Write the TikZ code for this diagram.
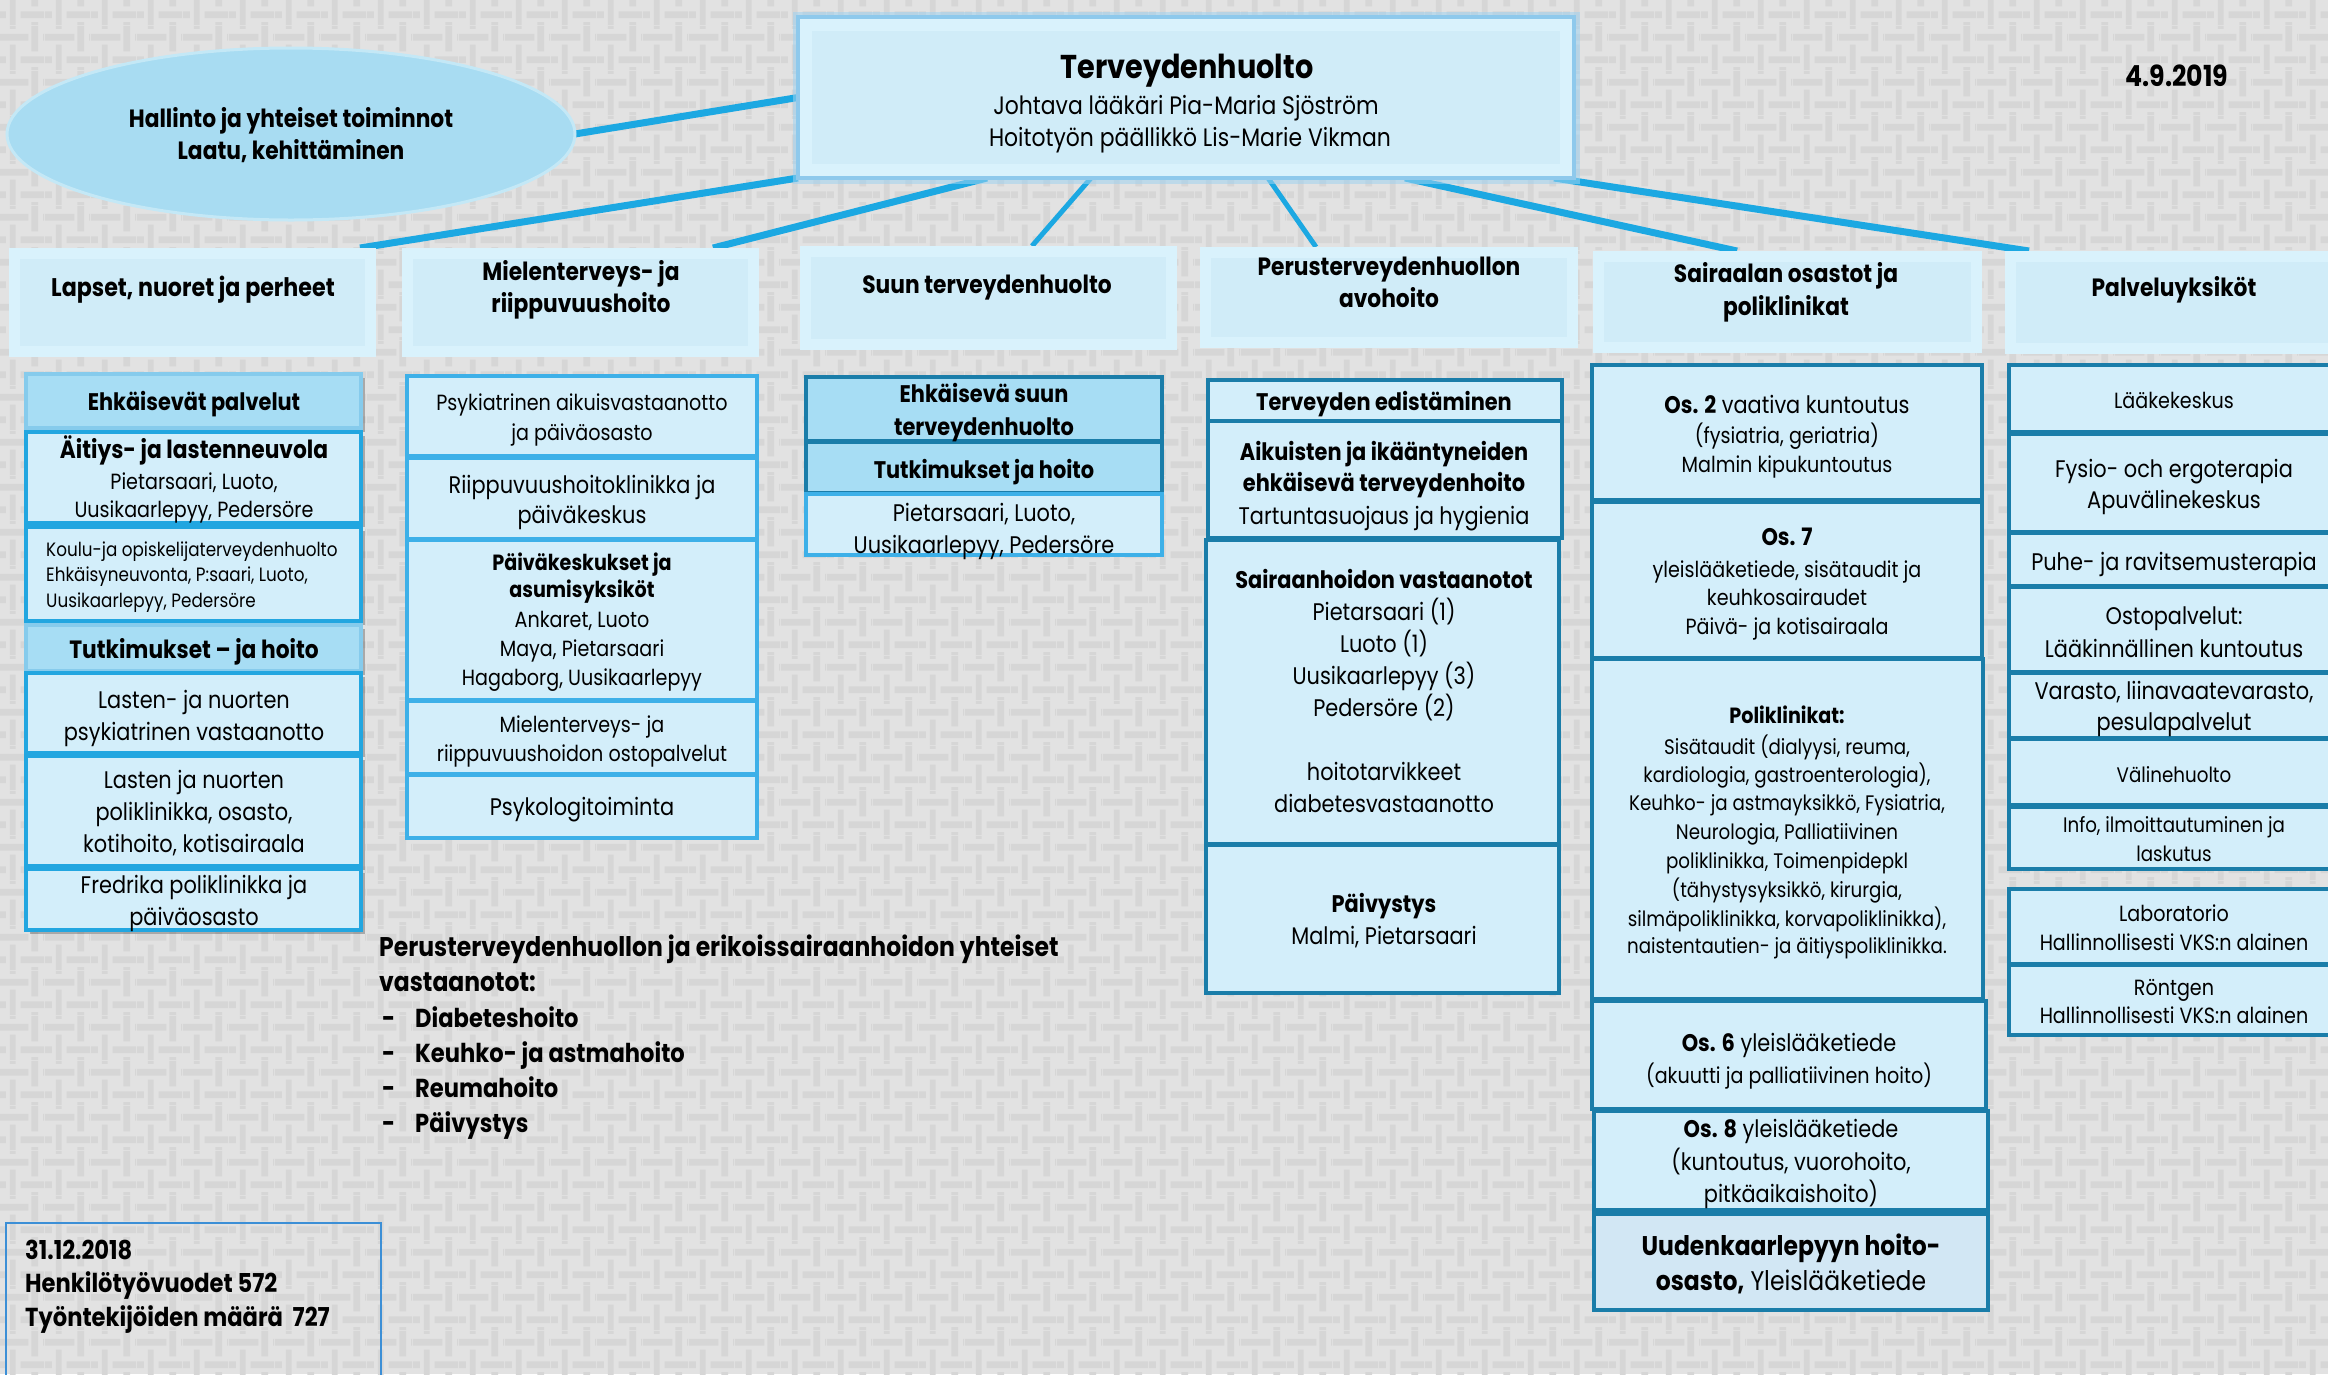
\documentclass[tikz,border=0pt]{standalone}
\usepackage{fontspec}
\setmainfont{Poppins}[FakeStretch=0.87]
\usetikzlibrary{shapes.geometric,shadows,patterns}
\definecolor{bgbase}{HTML}{E2E2E2}
\definecolor{bgbar}{HTML}{D6D6D6}
\definecolor{boxlt}{HTML}{D3EEFA}
\definecolor{boxdk}{HTML}{A7DDF4}
\definecolor{hdout}{HTML}{D9F2FC}
\definecolor{hdin}{HTML}{D0ECF8}
\definecolor{conncol}{HTML}{1CA8E2}
\definecolor{bbright}{HTML}{22A6E0}
\definecolor{blight}{HTML}{86CBEC}
\definecolor{bmid}{HTML}{3DB0E8}
\definecolor{bdark}{HTML}{1A7DA9}
\definecolor{ellfill}{HTML}{A8DCF2}
\definecolor{ellrim}{HTML}{C4E8F6}
\definecolor{uufill}{HTML}{D2E7F4}
\definecolor{statb}{HTML}{3C8FD6}
\definecolor{glowc}{HTML}{9FD2F0}
\definecolor{topbd}{HTML}{8EC9EC}

\pgfdeclarepatternformonly{weave}{\pgfpointorigin}{\pgfpoint{46pt}{45pt}}{\pgfpoint{46pt}{45pt}}{%
  \pgfpathrectangle{\pgfpoint{22pt}{7pt}}{\pgfpoint{24pt}{7pt}}%
  \pgfpathrectangle{\pgfpoint{0pt}{7pt}}{\pgfpoint{7pt}{7pt}}%
  \pgfpathrectangle{\pgfpoint{11pt}{0pt}}{\pgfpoint{6pt}{26pt}}%
  \pgfpathrectangle{\pgfpoint{11pt}{42pt}}{\pgfpoint{6pt}{3pt}}%
  \pgfpathrectangle{\pgfpoint{33pt}{19pt}}{\pgfpoint{7pt}{26pt}}%
  \pgfpathrectangle{\pgfpoint{33pt}{0pt}}{\pgfpoint{7pt}{3pt}}%
  \pgfpathrectangle{\pgfpoint{0pt}{30pt}}{\pgfpoint{30pt}{7pt}}%
  \pgfpathrectangle{\pgfpoint{45pt}{30pt}}{\pgfpoint{1pt}{7pt}}%
  \pgfusepath{fill}}

\pgfdeclarelayer{bglayer}
\pgfdeclarelayer{connlayer}
\pgfsetlayers{bglayer,connlayer,main}

\newcommand\fsz[1]{\fontsize{#1}{#1}\selectfont}
\newcommand\rgf[1]{\fsz{#1}\mdseries}
\newcommand\bdf[1]{\fsz{#1}\bfseries}
\newcounter{tlc}
\newcommand\tline[4][]{\stepcounter{tlc}\node[tln,#1,font=#3] (tl\arabic{tlc}) at (#2) {#4};}
\newcommand\bx[6]{\node[#1,minimum width={(#5-#3)*1pt},minimum height={(#6-#4)*1pt},anchor=north west] (#2) at (#3,#4) {};}

\tikzset{
  tln/.style={anchor=base, inner sep=0pt, text=black},
  tlw/.style={anchor=base west},
  basebox/.style={rectangle, inner sep=0pt, outer sep=0pt},
  hdr/.style={basebox, fill=hdout, path picture={\fill[hdin] ([shift={(11pt,-11pt)}]path picture bounding box.north west) rectangle ([shift={(-11pt,11pt)}]path picture bounding box.south east);}},
  topbox/.style={basebox, fill=hdout, draw=topbd, line width=4pt,
     preaction={draw=glowc, line width=11pt, opacity=0.55},
     path picture={\fill[hdin] ([shift={(14pt,-14pt)}]path picture bounding box.north west) rectangle ([shift={(-14pt,14pt)}]path picture bounding box.south east);}},
  ell/.style={ellipse, inner sep=0pt, outer sep=0pt, minimum width=568pt, minimum height=172pt, fill=ellfill, draw=ellrim, line width=3pt},
  c1/.style={basebox, fill=boxlt, draw=bbright, line width=3.5pt, drop shadow={shadow xshift=4pt, shadow yshift=-4pt, opacity=0.25, fill=black}},
  c1dk/.style={c1, fill=boxdk, draw=blight},
  c2/.style={basebox, fill=boxlt, draw=bmid, line width=3.5pt},
  c3dk/.style={basebox, fill=boxdk, draw=bdark, line width=3.5pt},
  c3/.style={basebox, fill=boxlt, draw=bmid, line width=3.5pt},
  c4/.style={basebox, fill=boxlt, draw=bdark, line width=3.2pt},
  c4uu/.style={c4, fill=uufill},
  statbox/.style={basebox, draw=statb, line width=2pt},
  cn/.style={draw=conncol, line width=7pt},
  cnt/.style={draw=conncol, line width=5pt}
}

\begin{document}
\begin{tikzpicture}[x=1pt,y=-1pt]
\useasboundingbox (0,0) rectangle (2328,1374);
\begin{pgfonlayer}{bglayer}
\fill[bgbase] (0,0) rectangle (2328,1374);
\fill[pattern=weave, pattern color=bgbar] (0,0) rectangle (2328,1374);
\end{pgfonlayer}
\clip (0,0) rectangle (2328,1374);

% top and ellipse
\bx{topbox}{top}{798}{17}{1574}{178}
\node[ell] (hall) at (291,134) {};

% headers
\bx{hdr}{h1}{9}{248}{376}{357}
\bx{hdr}{h2}{402}{248}{759}{357}
\bx{hdr}{h3}{800}{246}{1177}{350}
\bx{hdr}{h4}{1200}{247}{1578}{348}
\bx{hdr}{h5}{1593}{251}{1982}{353}
\bx{hdr}{h6}{2005}{251}{2343}{354}

% column 1
\bx{c1dk}{a1}{26}{374}{361}{428}
\bx{c1}{a2}{26}{432}{361}{523}
\bx{c1}{a3}{26}{527}{361}{621}
\bx{c1dk}{a4}{26}{625}{361}{671}
\bx{c1}{a5}{26}{673}{361}{753}
\bx{c1}{a6}{26}{756}{361}{866}
\bx{c1}{a7}{26}{869}{361}{930}

% column 2
\bx{c2}{b1}{407}{376}{757}{456}
\bx{c2}{b2}{407}{458}{757}{539}
\bx{c2}{b3}{407}{540}{757}{700}
\bx{c2}{b4}{407}{701}{757}{774}
\bx{c2}{b5}{407}{775}{757}{838}

% column 3
\bx{c3dk}{s1}{806}{377}{1162}{441}
\bx{c3dk}{s2}{806}{442}{1162}{493}
\bx{c3}{s3}{806}{494}{1162}{555}

% column 4
\bx{c4}{p1}{1208}{380}{1562}{421}
\bx{c4}{p2}{1208}{421}{1562}{538}
\bx{c4}{p3}{1206}{540}{1559}{844}
\bx{c4}{p4}{1206}{845}{1559}{993}

% column 5
\bx{c4}{o1}{1592}{365}{1982}{500}
\bx{c4}{o2}{1592}{502}{1982}{658}
\bx{c4}{o3}{1592}{659}{1983}{999}
\bx{c4}{o4}{1592}{1001}{1986}{1109}
\bx{c4}{o5}{1594}{1111}{1988}{1210}
\bx{c4uu}{o6}{1594}{1214}{1988}{1310}

% column 6
\bx{c4}{q1}{2009}{365}{2345}{432}
\bx{c4}{q2}{2009}{434}{2345}{532}
\bx{c4}{q3}{2009}{533}{2345}{586}
\bx{c4}{q4}{2009}{587}{2345}{672}
\bx{c4}{q5}{2009}{673}{2345}{738}
\bx{c4}{q6}{2009}{739}{2345}{805}
\bx{c4}{q7}{2009}{807}{2345}{869}
\bx{c4}{q8}{2009}{889}{2345}{964}
\bx{c4}{q9}{2009}{965}{2345}{1035}

% stats box
\bx{statbox}{stat}{6}{1223}{381}{1390}

% connectors
\begin{pgfonlayer}{connlayer}
\draw[cn] (hall.east) -- (top.west);
\draw[cn] (top.south west) -- ([xshift=351pt]h1.north west);
\draw[cn] ([xshift=189pt]top.south west) -- ([xshift=311pt]h2.north west);
\draw[cnt] ([xshift=293pt]top.south west) -- ([xshift=232pt]h3.north west);
\draw[cnt] ([xshift=470pt]top.south west) -- ([xshift=116pt]h4.north west);
\draw[cn] ([xshift=607pt]top.south west) -- ([xshift=144pt]h5.north west);
\draw[cn] ([xshift=756pt]top.south west) -- ([xshift=24pt]h6.north west);
\end{pgfonlayer}

% texts: top
\tline{1187,78}{\bdf{33}}{Terveydenhuolto}
\tline{1186,114}{\rgf{25.2}}{Johtava lääkäri Pia-Maria Sjöström}
\tline{1190,146}{\rgf{25.2}}{Hoitotyön päällikkö Lis-Marie Vikman}
\tline{291,127}{\bdf{25}}{Hallinto ja yhteiset toiminnot}
\tline{291,159}{\bdf{25}}{Laatu, kehittäminen}
\tline{2177,86}{\bdf{29}}{4.9.2019}

% headers
\tline{193,296}{\bdf{25.5}}{Lapset, nuoret ja perheet}
\tline{581,280}{\bdf{25}}{Mielenterveys- ja}
\tline{581,312}{\bdf{25}}{riippuvuushoito}
\tline{987,293}{\bdf{25}}{Suun terveydenhuolto}
\tline{1389,275}{\bdf{25}}{Perusterveydenhuollon}
\tline{1389,307}{\bdf{25}}{avohoito}
\tline{1786,282}{\bdf{25}}{Sairaalan osastot ja}
\tline{1786,315}{\bdf{25}}{poliklinikat}
\tline{2174,296}{\bdf{25}}{Palveluyksiköt}

% column 1
\tline{194,410}{\bdf{24}}{Ehkäisevät palvelut}
\tline{194,458}{\bdf{25}}{Äitiys- ja lastenneuvola}
\tline{194,489}{\rgf{22}}{Pietarsaari, Luoto,}
\tline{194,517}{\rgf{22}}{Uusikaarlepyy, Pedersöre}
\tline[tlw]{46,556}{\rgf{19.3}}{Koulu-ja opiskelijaterveydenhuolto}
\tline[tlw]{46,581}{\rgf{19.3}}{Ehkäisyneuvonta, P:saari, Luoto,}
\tline[tlw]{46,607}{\rgf{19.3}}{Uusikaarlepyy, Pedersöre}
\tline{194,658}{\bdf{25}}{Tutkimukset – ja hoito}
\tline{194,708}{\rgf{24}}{Lasten- ja nuorten}
\tline{194,740}{\rgf{24}}{psykiatrinen vastaanotto}
\tline{194,788}{\rgf{24}}{Lasten ja nuorten}
\tline{194,820}{\rgf{24}}{poliklinikka, osasto,}
\tline{194,852}{\rgf{24}}{kotihoito, kotisairaala}
\tline{194,893}{\rgf{24}}{Fredrika poliklinikka ja}
\tline{194,925}{\rgf{24}}{päiväosasto}

% column 2
\tline{582,410}{\rgf{22}}{Psykiatrinen aikuisvastaanotto}
\tline{582,440}{\rgf{22}}{ja päiväosasto}
\tline{582,493}{\rgf{24}}{Riippuvuushoitoklinikka ja}
\tline{582,523}{\rgf{24}}{päiväkeskus}
\tline{582,570}{\bdf{22}}{Päiväkeskukset ja}
\tline{582,597}{\bdf{22}}{asumisyksiköt}
\tline{582,627}{\rgf{22}}{Ankaret, Luoto}
\tline{582,656}{\rgf{22}}{Maya, Pietarsaari}
\tline{582,685}{\rgf{22}}{Hagaborg, Uusikaarlepyy}
\tline{582,732}{\rgf{22}}{Mielenterveys- ja}
\tline{582,761}{\rgf{22}}{riippuvuushoidon ostopalvelut}
\tline{582,815}{\rgf{24}}{Psykologitoiminta}

% column 3
\tline{984,402}{\bdf{24}}{Ehkäisevä suun}
\tline{984,435}{\bdf{24}}{terveydenhuolto}
\tline{984,478}{\bdf{24}}{Tutkimukset ja hoito}
\tline{984,521}{\rgf{24}}{Pietarsaari, Luoto,}
\tline{984,553}{\rgf{24}}{Uusikaarlepyy, Pedersöre}

% column 4
\tline{1384,410}{\bdf{24}}{Terveyden edistäminen}
\tline{1384,460}{\bdf{24}}{Aikuisten ja ikääntyneiden}
\tline{1384,491}{\bdf{24}}{ehkäisevä terveydenhoito}
\tline{1384,524}{\rgf{24}}{Tartuntasuojaus ja hygienia}
\tline{1384,588}{\bdf{24}}{Sairaanhoidon vastaanotot}
\tline{1384,620}{\rgf{24}}{Pietarsaari (1)}
\tline{1384,652}{\rgf{24}}{Luoto (1)}
\tline{1384,684}{\rgf{24}}{Uusikaarlepyy (3)}
\tline{1384,716}{\rgf{24}}{Pedersöre (2)}
\tline{1384,780}{\rgf{24}}{hoitotarvikkeet}
\tline{1384,812}{\rgf{24}}{diabetesvastaanotto}
\tline{1384,912}{\bdf{24}}{Päivystys}
\tline{1384,944}{\rgf{24}}{Malmi, Pietarsaari}

% column 5
\tline{1787,413}{\rgf{24}}{\textbf{Os. 2} vaativa kuntoutus}
\tline{1787,443}{\rgf{22}}{(fysiatria, geriatria)}
\tline{1787,472}{\rgf{22}}{Malmin kipukuntoutus}
\tline{1787,545}{\bdf{24}}{Os. 7}
\tline{1787,577}{\rgf{22}}{yleislääketiede, sisätaudit ja}
\tline{1787,605}{\rgf{22}}{keuhkosairaudet}
\tline{1787,634}{\rgf{22}}{Päivä- ja kotisairaala}
\tline{1787,723}{\bdf{22}}{Poliklinikat:}
\tline{1787,754}{\rgf{21}}{Sisätaudit (dialyysi, reuma,}
\tline{1787,782}{\rgf{21}}{kardiologia, gastroenterologia),}
\tline{1787,810}{\rgf{21}}{Keuhko- ja astmayksikkö, Fysiatria,}
\tline{1787,839}{\rgf{21}}{Neurologia, Palliatiivinen}
\tline{1787,868}{\rgf{21}}{poliklinikka, Toimenpidepkl}
\tline{1787,897}{\rgf{21}}{(tähystysyksikkö, kirurgia,}
\tline{1787,926}{\rgf{21}}{silmäpoliklinikka, korvapoliklinikka),}
\tline{1787,953}{\rgf{21}}{naistentautien- ja äitiyspoliklinikka.}
\tline{1789,1051}{\rgf{24}}{\textbf{Os. 6} yleislääketiede}
\tline{1789,1083}{\rgf{22}}{(akuutti ja palliatiivinen hoito)}
\tline{1791,1137}{\rgf{24}}{\textbf{Os. 8} yleislääketiede}
\tline{1791,1170}{\rgf{24}}{(kuntoutus, vuorohoito,}
\tline{1791,1202}{\rgf{24}}{pitkäaikaishoito)}
\tline{1791,1255}{\bdf{27}}{Uudenkaarlepyyn hoito-}
\tline{1791,1290}{\rgf{27}}{\textbf{osasto,} Yleislääketiede}

% column 6
\tline{2174,408}{\rgf{22}}{Lääkekeskus}
\tline{2174,477}{\rgf{24}}{Fysio- och ergoterapia}
\tline{2174,508}{\rgf{24}}{Apuvälinekeskus}
\tline{2174,570}{\rgf{24}}{Puhe- ja ravitsemusterapia}
\tline{2174,624}{\rgf{24}}{Ostopalvelut:}
\tline{2174,657}{\rgf{24}}{Lääkinnällinen kuntoutus}
\tline{2174,699}{\rgf{24}}{Varasto, liinavaatevarasto,}
\tline{2174,730}{\rgf{24}}{pesulapalvelut}
\tline{2174,782}{\rgf{21}}{Välinehuolto}
\tline{2174,832}{\rgf{21}}{Info, ilmoittautuminen ja}
\tline{2174,861}{\rgf{21}}{laskutus}
\tline{2174,921}{\rgf{22}}{Laboratorio}
\tline{2174,950}{\rgf{22}}{Hallinnollisesti VKS:n alainen}
\tline{2174,995}{\rgf{22}}{Röntgen}
\tline{2174,1023}{\rgf{22}}{Hallinnollisesti VKS:n alainen}

% bottom text
\tline[tlw]{379,956}{\bdf{27}}{Perusterveydenhuollon ja erikoissairaanhoidon yhteiset}
\tline[tlw]{379,991}{\bdf{27}}{vastaanotot:}
\tline[tlw]{382,1027}{\bdf{26}}{-}
\tline[tlw]{415,1027}{\bdf{26}}{Diabeteshoito}
\tline[tlw]{382,1062}{\bdf{26}}{-}
\tline[tlw]{415,1062}{\bdf{26}}{Keuhko- ja astmahoito}
\tline[tlw]{382,1097}{\bdf{26}}{-}
\tline[tlw]{415,1097}{\bdf{26}}{Reumahoito}
\tline[tlw]{382,1132}{\bdf{26}}{-}
\tline[tlw]{415,1132}{\bdf{26}}{Päivystys}

\tline[tlw]{25,1259}{\bdf{26}}{31.12.2018}
\tline[tlw]{25,1292}{\bdf{26}}{Henkilötyövuodet 572}
\tline[tlw]{25,1326}{\bdf{26}}{Työntekijöiden määrä~~727}
\end{tikzpicture}
\end{document}
